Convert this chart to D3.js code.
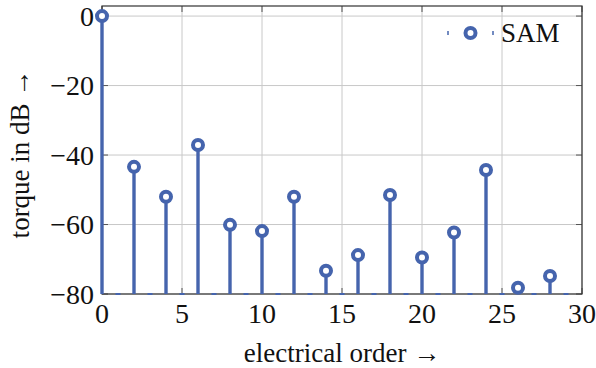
<!DOCTYPE html>
<html>
<head>
<meta charset="utf-8">
<script src="https://cdn.jsdelivr.net/npm/d3@7"></script>
<style>
  body { margin: 0; background: #fff; }
  text { font-family: "Liberation Serif", "DejaVu Serif", serif; fill: #111; }
</style>
</head>
<body>
<svg width="596" height="368"></svg>
<script>
// data
const orders = [0, 2, 4, 6, 8, 10, 12, 14, 16, 18, 20, 22, 24, 26, 28];
const torque = [0, -43.4, -52.0, -37.1, -60.1, -61.9, -52.0, -73.3, -68.8, -51.5, -69.5, -62.3, -44.3, -78.2, -74.8];
// odd orders sit on the floor of the axis
const oddOrders = [1, 3, 5, 7, 9, 11, 13, 15, 17, 19, 21, 23, 25, 27, 29];
const xTicks = [0, 5, 10, 15, 20, 25, 30];
const yTicks = [-80, -60, -40, -20, 0];
const seriesName = "SAM";

const blue = "#4564ad";
const svg = d3.select("svg");

const x = d3.scaleLinear().domain([0, 30]).range([102, 582]);
const y = d3.scaleLinear().domain([-80, 2.9]).range([294, 6]);

// grid
svg.append("g").selectAll("line.gx")
  .data(xTicks).enter().append("line")
  .attr("x1", d => x(d)).attr("x2", d => x(d))
  .attr("y1", y(-80)).attr("y2", y(2.9))
  .attr("stroke", "#c8c8c8").attr("stroke-width", 1);
svg.append("g").selectAll("line.gy")
  .data(yTicks).enter().append("line")
  .attr("x1", x(0)).attr("x2", x(30))
  .attr("y1", d => y(d)).attr("y2", d => y(d))
  .attr("stroke", "#c8c8c8").attr("stroke-width", 1);

// tick marks, inside, on all four sides
const tk = svg.append("g").attr("stroke", "#555").attr("stroke-width", 1);
xTicks.forEach(d => {
  tk.append("line").attr("x1", x(d)).attr("x2", x(d)).attr("y1", y(-80)).attr("y2", y(-80) - 6);
  tk.append("line").attr("x1", x(d)).attr("x2", x(d)).attr("y1", y(2.9)).attr("y2", y(2.9) + 6);
});
yTicks.forEach(d => {
  tk.append("line").attr("x1", x(0)).attr("x2", x(0) + 6).attr("y1", y(d)).attr("y2", y(d));
  tk.append("line").attr("x1", x(30)).attr("x2", x(30) - 6).attr("y1", y(d)).attr("y2", y(d));
});

// frame
svg.append("rect")
  .attr("x", x(0)).attr("y", y(2.9))
  .attr("width", x(30) - x(0)).attr("height", y(-80) - y(2.9))
  .attr("fill", "none").attr("stroke", "#333").attr("stroke-width", 1.2);

// odd-order stubs on the floor
svg.append("g").selectAll("rect")
  .data(oddOrders).enter().append("rect")
  .attr("x", d => x(d) - 2.5).attr("y", y(-80) - 1)
  .attr("width", 5).attr("height", 2)
  .attr("fill", blue);

// stems
const pts = orders.map((o, i) => ({ o: o, v: torque[i] }));
svg.append("g").selectAll("line")
  .data(pts).enter().append("line")
  .attr("x1", d => x(d.o)).attr("x2", d => x(d.o))
  .attr("y1", y(-80)).attr("y2", d => y(d.v))
  .attr("stroke", blue).attr("stroke-width", 3.4);

// markers
svg.append("g").selectAll("circle")
  .data(pts).enter().append("circle")
  .attr("cx", d => x(d.o)).attr("cy", d => y(d.v))
  .attr("r", 5)
  .attr("fill", "#fff").attr("stroke", blue).attr("stroke-width", 4);

// tick labels
svg.append("g").selectAll("text")
  .data(xTicks).enter().append("text")
  .attr("x", d => x(d)).attr("y", 323)
  .attr("text-anchor", "middle")
  .attr("font-size", 28)
  .text(d => d);
svg.append("g").selectAll("text")
  .data(yTicks).enter().append("text")
  .attr("x", 94).attr("y", d => y(d)).attr("dy", "0.35em")
  .attr("text-anchor", "end")
  .attr("font-size", 28)
  .text(d => d < 0 ? "\u2212" + Math.abs(d) : d);

// axis labels
svg.append("text")
  .attr("x", (x(0) + x(30)) / 2).attr("y", 362)
  .attr("text-anchor", "middle").attr("font-size", 27)
  .text("electrical order \u2192");
svg.append("text")
  .attr("transform", "translate(29," + ((y(-80) + y(2.9)) / 2 + 4) + ") rotate(-90)")
  .attr("text-anchor", "middle").attr("font-size", 27)
  .text("torque in dB \u2192");

// legend
const lg = svg.append("g");
lg.append("line").attr("x1", 448).attr("x2", 448).attr("y1", 31).attr("y2", 35)
  .attr("stroke", blue).attr("stroke-width", 1.5);
lg.append("line").attr("x1", 493).attr("x2", 493).attr("y1", 31).attr("y2", 35)
  .attr("stroke", blue).attr("stroke-width", 1.5);
lg.append("circle").attr("cx", 470.5).attr("cy", 33).attr("r", 5)
  .attr("fill", "#fff").attr("stroke", blue).attr("stroke-width", 4);
lg.append("text").attr("x", 501).attr("y", 33).attr("dy", "0.35em")
  .attr("font-size", 27).text(seriesName);
</script>
</body>
</html>
